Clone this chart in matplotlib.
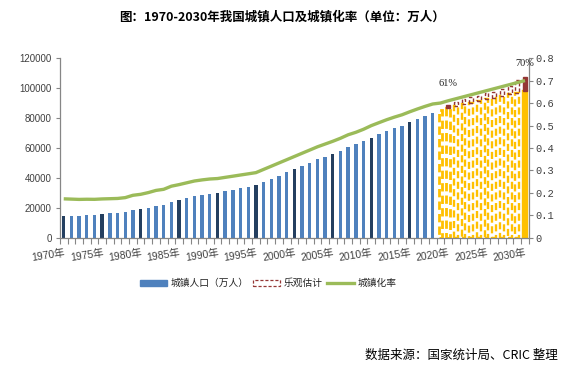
import matplotlib
matplotlib.use("Agg")
import matplotlib.pyplot as plt
from matplotlib.patches import Patch
from matplotlib.lines import Line2D
import matplotlib.transforms as mtransforms

plt.rcParams['font.family'] = ['Noto Sans CJK SC', 'DejaVu Sans']

# ---------------- data ----------------
years = list(range(1970, 2031))
hist_years = list(range(1970, 2019))
urban_pop = [14424, 14711, 14935, 15345, 15595, 16030, 16341, 16669, 17245, 18495,
             19140, 20171, 21480, 22274, 24017, 25094, 26366, 27674, 28661, 29540,
             30195, 31203, 32175, 33173, 34169, 35174, 37304, 39449, 41608, 43748,
             45906, 48064, 50212, 52376, 54283, 56212, 58288, 60633, 62403, 64512,
             66978, 69079, 71182, 73111, 74916, 77116, 79298, 81347, 83137]
fc_years = list(range(2019, 2031))
fc_base = [85500, 86800, 88200, 89100, 90200, 91300, 92500, 93500, 94700, 95800, 97000, 97800]
fc_optimistic = [85500, 88700, 90900, 92500, 93800, 94700, 96500, 97500, 99300, 101500, 105300, 107500]
urban_rate = [0.1738, 0.1726, 0.1713, 0.1720, 0.1716, 0.1734, 0.1744, 0.1755, 0.1792, 0.1896,
              0.1939, 0.2016, 0.2113, 0.2162, 0.2301, 0.2371, 0.2452, 0.2532, 0.2581, 0.2621,
              0.2641, 0.2694, 0.2746, 0.2799, 0.2851, 0.2904, 0.3048, 0.3191, 0.3335, 0.3478,
              0.3622, 0.3766, 0.3909, 0.4053, 0.4176, 0.4299, 0.4434, 0.4589, 0.4699, 0.4834,
              0.4995, 0.5127, 0.5257, 0.5373, 0.5477, 0.5610, 0.5735, 0.5852, 0.5958,
              0.6000, 0.6100, 0.6190, 0.6280, 0.6370, 0.6460, 0.6550, 0.6640, 0.6730, 0.6820,
              0.6910, 0.7000]
label_years = list(range(1970, 2031, 5))
rate_labels = {2020: '61%', 2030: '70%'}
left_ticks = [0, 20000, 40000, 60000, 80000, 100000, 120000]
right_ticks = [0, 0.1, 0.2, 0.3, 0.4, 0.5, 0.6, 0.7, 0.8]

title = '图：1970-2030年我国城镇人口及城镇化率（单位：万人）'
source = '数据来源：国家统计局、CRIC 整理'

# ---------------- colours ----------------
BLUE = '#4F81BD'
DARK = '#243F60'
YELLOW = '#FFC000'
BROWN = '#943634'
GREEN = '#9BBB59'
AXC = '#868686'
TXT = '#404040'

fig = plt.figure(figsize=(5.65, 3.70), dpi=100)
ax = fig.add_axes([0.106, 0.357, 0.830, 0.486])
ax2 = ax.twinx()

idx = {y: i for i, y in enumerate(years)}

# historical bars
hx = [idx[y] for y in hist_years]
hcol = [DARK if y % 5 == 0 else BLUE for y in hist_years]
ax.bar(hx, urban_pop, width=0.44, color=hcol, zorder=2)

# forecast bars
for k, y in enumerate(fc_years):
    x = idx[y]
    solid = (y == fc_years[-1])
    ax.bar(x, fc_base[k], width=0.5 if not solid else 0.45,
           facecolor=YELLOW if solid else 'none',
           edgecolor=YELLOW, linewidth=2.0 if k < 2 else 1.7,
           linestyle='-' if solid else (0, (3, 1.5)), zorder=2)
    inc = fc_optimistic[k] - fc_base[k]
    if inc > 0:
        solid_top = (y == fc_years[1]) or (y == fc_years[-1])
        ax.bar(x, inc, bottom=fc_base[k], width=0.5 if not solid_top else 0.45,
               facecolor=BROWN if solid_top else 'none',
               edgecolor=BROWN, linewidth=1.0,
               linestyle='-' if solid_top else (0, (2.5, 1.5)), zorder=2)

# line on secondary axis
ax2.plot(range(len(years)), urban_rate, color=GREEN, lw=2.4, zorder=3,
         solid_capstyle='butt')
for y, t in rate_labels.items():
    ax2.text(idx[y], urban_rate[idx[y]] + 0.075, t, ha='center', va='center',
             fontsize=7.5, color='#222222', family=['Liberation Serif', 'DejaVu Sans'])

# axes formatting
ax.set_xlim(-0.5, len(years) - 0.5)
ax.set_ylim(0, 120000)
ax2.set_ylim(0, 0.8)
ax.set_yticks(left_ticks)
ax.set_yticklabels([str(v) for v in left_ticks], fontsize=7, color=TXT,
                   family=['Liberation Sans', 'DejaVu Sans'])
ax2.set_yticks(right_ticks)
ax2.set_yticklabels(['0' if v == 0 else f'{v:.1f}' for v in right_ticks], fontsize=7.5,
                    color=TXT, family=['Liberation Mono', 'DejaVu Sans Mono'])
ax.set_xticks([i - 0.5 for i in range(len(years) + 1)])
ax.set_xticklabels([])
ax.tick_params(axis='x', length=4, color=AXC, width=0.8)
ax.tick_params(axis='y', length=3, color=AXC, width=0.8, pad=3)
ax2.tick_params(axis='y', length=3, color=AXC, width=0.8, pad=2)

for a in (ax, ax2):
    a.spines['top'].set_visible(False)
    for s in ('left', 'right', 'bottom'):
        a.spines[s].set_color(AXC)
        a.spines[s].set_linewidth(0.9)
ax.spines['right'].set_visible(False)
ax2.spines['left'].set_visible(False)
ax2.spines['bottom'].set_visible(False)

# rotated year labels
trans = mtransforms.blended_transform_factory(ax.transData, ax.transAxes)
for y in label_years:
    ax.text(idx[y] + 0.05, -0.055, f'{y}年', transform=trans, ha='right', va='top',
            rotation=9, rotation_mode='anchor', fontsize=7.5, color=TXT,
            family=['Liberation Sans', 'Noto Sans CJK SC'])

# legend
handles = [Patch(facecolor=BLUE, edgecolor=BLUE),
           Patch(facecolor='none', edgecolor=BROWN, linestyle=(0, (2.5, 1.5)), linewidth=0.9),
           Line2D([0], [0], color=GREEN, lw=2.4)]
labels = ['城镇人口（万人）', '乐观估计', '城镇化率']
fig.legend(handles, labels, loc='center', bbox_to_anchor=(0.475, 0.235), ncol=3,
           frameon=False, fontsize=7, handlelength=2.8, handleheight=0.6,
           columnspacing=0.4, handletextpad=0.4, labelcolor='#222222')

fig.text(0.50, 0.953, title, ha='center', va='center', fontsize=9, fontweight='heavy',
         color='#000000')
fig.text(0.988, 0.04, source, ha='right', va='center', fontsize=9, color='#000000')

fig.savefig('out.png', dpi=100)
